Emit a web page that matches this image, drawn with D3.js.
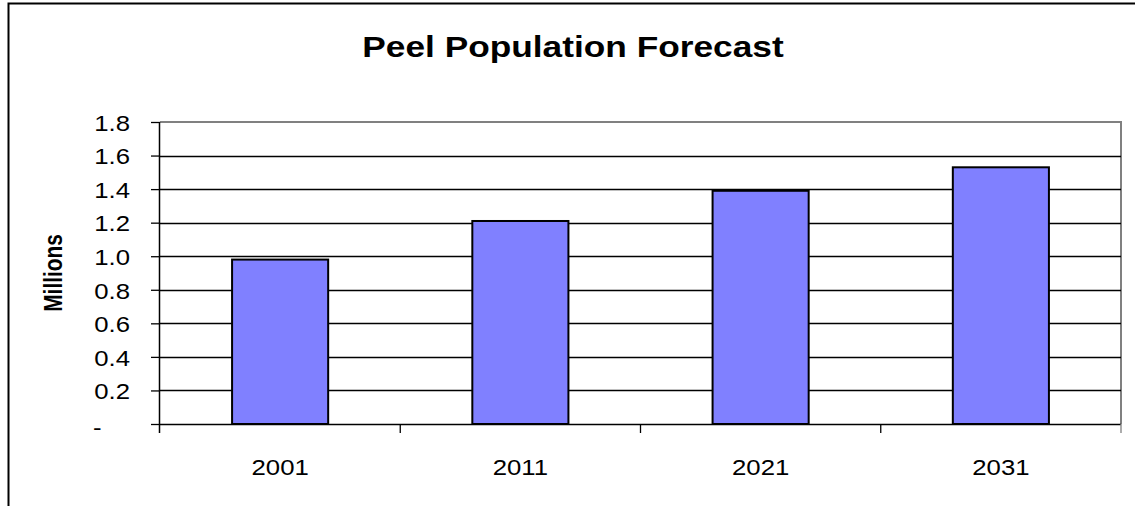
<!DOCTYPE html>
<head>
<meta charset="utf-8">
<style>
body { margin: 0; background: #fff; }
text { font-family: "Liberation Sans", Arial, sans-serif; fill: #000; }
.grid line { stroke: #000; stroke-width: 1.3px; }
.bar { fill: #8080ff; stroke: #000; stroke-width: 2px; }
</style>
</head>
<body>
<svg width="1135" height="506"></svg>
<script src="https://cdn.jsdelivr.net/npm/d3@7/dist/d3.min.js"></script>
<script>

var years = ["2001", "2011", "2021", "2031"];
var population = [0.98, 1.21, 1.39, 1.53];   // millions
var yTicks = [0, 0.2, 0.4, 0.6, 0.8, 1.0, 1.2, 1.4, 1.6, 1.8];

var svg = d3.select("svg"),
    plotL = 160, plotR = 1121, plotT = 122, plotB = 424,
    sx = 1.12;   // original picture is stretched horizontally

// outer frame (cut off at right & bottom in the original)
svg.append("path")
    .attr("d", "M8.5,506V3.5H1135")
    .attr("fill", "none")
    .attr("stroke", "#000")
    .attr("stroke-width", 2);

var x = d3.scaleBand().domain(years).range([plotL, plotR]).paddingInner(0).paddingOuter(0);
var y = d3.scaleLinear().domain([0, 1.8]).range([plotB, plotT]);

// plot area border (grey, top & right)
svg.append("path")
    .attr("d", "M" + plotL + "," + plotT + "H" + plotR + "V" + plotB)
    .attr("fill", "none")
    .attr("stroke", "#808080")
    .attr("stroke-width", 2);

svg.append("g").attr("class", "grid")
  .selectAll("line")
  .data(yTicks.filter(function(d) { return d > 0 && d < 1.8; }))
  .enter().append("line")
    .attr("x1", plotL).attr("x2", plotR)
    .attr("y1", function(d) { return Math.round(y(d)) + 0.5; })
    .attr("y2", function(d) { return Math.round(y(d)) + 0.5; });

svg.selectAll(".bar")
    .data(population)
  .enter().append("rect")
    .attr("class", "bar")
    .attr("x", function(d, i) { return x(years[i]) + x.bandwidth() * 0.3; })
    .attr("width", x.bandwidth() * 0.4)
    .attr("y", function(d) { return y(d); })
    .attr("height", function(d) { return y(0) - y(d); });

// y axis
var yAxis = d3.axisLeft(y)
    .tickValues(yTicks)
    .tickSize(9)
    .tickFormat(function(d) { return d === 0 ? "-" : d3.format(".1f")(d); });

var ya = svg.append("g").attr("transform", "translate(" + plotL + ",0)").call(yAxis);
ya.select(".domain").attr("d", "M-0.5," + plotT + "V" + (plotB + 9)).attr("stroke", "#000").attr("stroke-width", 1.5);
ya.selectAll(".tick line").attr("stroke", "#000").attr("stroke-width", 1.3);
ya.selectAll(".tick text")
    .attr("x", null)
    .attr("text-anchor", function(d) { return d === 0 ? "start" : "end"; })
    .attr("transform", function(d) { return "translate(" + (d === 0 ? -67 : -30) + "," + (d === 0 ? 2 : 0) + ") scale(" + sx + ",1)"; })
    .style("font-size", "23px").attr("dy", "0.36em").attr("fill", "#000");

// x axis
var xa = svg.append("g").attr("transform", "translate(0," + plotB + ")");
xa.append("line").attr("x1", plotL).attr("x2", plotR).attr("y1", 0.5).attr("y2", 0.5)
    .attr("stroke", "#000").attr("stroke-width", 1.5);
xa.selectAll(".xtick")
    .data(years.slice(1).concat(["end"]))
  .enter().append("line")
    .attr("x1", function(d, i) { return i < 3 ? x(d) : plotR; })
    .attr("x2", function(d, i) { return i < 3 ? x(d) : plotR; })
    .attr("y1", 0).attr("y2", 9)
    .attr("stroke", function(d, i) { return i < 3 ? "#000" : "#808080"; })
    .attr("stroke-width", 1.3);
xa.selectAll(".xlabel")
    .data(years)
  .enter().append("text")
    .attr("transform", function(d) { return "translate(" + (x(d) + x.bandwidth() / 2) + ",51) scale(" + sx + ",1)"; })
    .attr("text-anchor", "middle")
    .style("font-size", "23px")
    .text(function(d) { return d; });

// titles
svg.append("text")
    .attr("transform", "translate(573,57) scale(1.176,1)")
    .attr("text-anchor", "middle")
    .style("font-size", "30px").style("font-weight", "bold")
    .text("Peel Population Forecast");

svg.append("text")
    .attr("transform", "translate(62,273) rotate(-90) scale(0.8,1)")
    .attr("text-anchor", "middle")
    .style("font-size", "26px").style("font-weight", "bold")
    .text("Millions");

</script>
</body>
